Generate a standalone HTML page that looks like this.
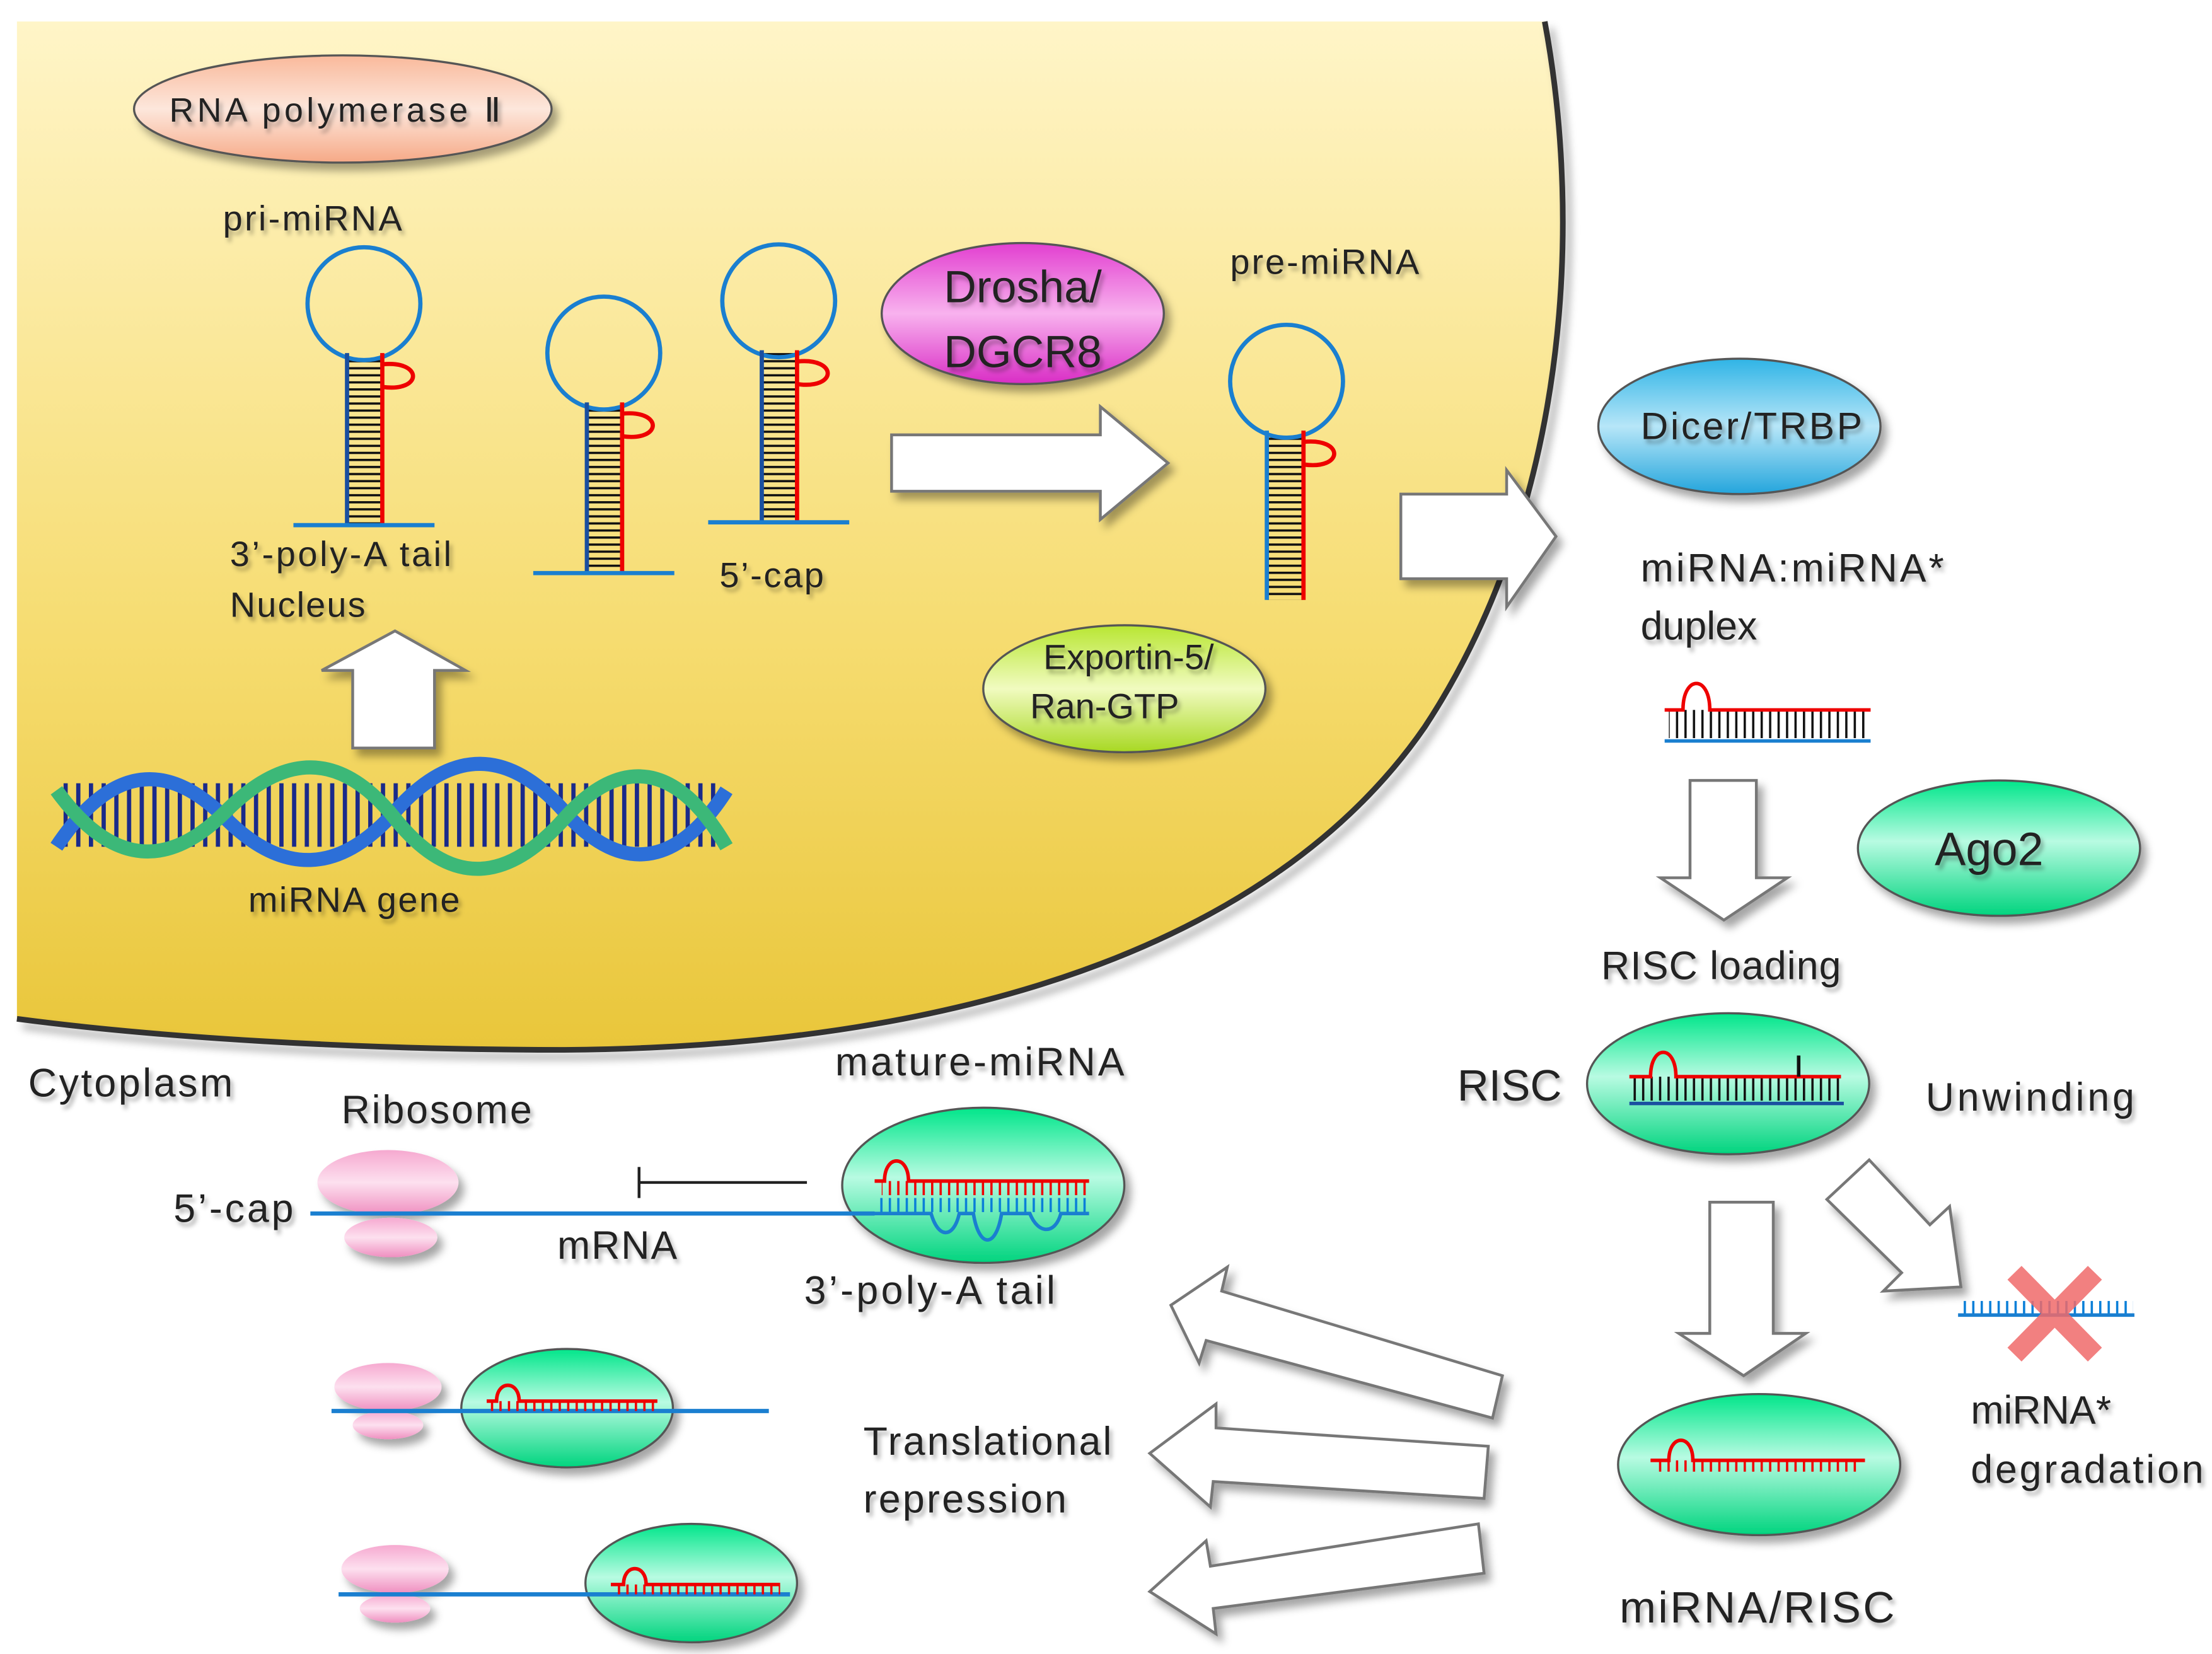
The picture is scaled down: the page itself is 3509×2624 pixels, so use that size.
<!DOCTYPE html>
<html><head><meta charset="utf-8"><style>html,body{margin:0;padding:0;background:#fff}svg{display:block}text{font-family:"Liberation Sans","DejaVu Sans",sans-serif;fill:#222}</style></head>
<body>
<svg width="3509" height="2624" viewBox="0 0 1568 1172" xmlns="http://www.w3.org/2000/svg">
<defs>
<linearGradient id="nuc" x1="0" y1="0" x2="0" y2="1"><stop offset="0" stop-color="#fff5c8"/><stop offset="0.6" stop-color="#f6dc70"/><stop offset="1" stop-color="#e9c63a"/></linearGradient>
<linearGradient id="grn" x1="0" y1="0" x2="0" y2="1"><stop offset="0" stop-color="#00e68a"/><stop offset="0.45" stop-color="#b8fbe2"/><stop offset="1" stop-color="#00d47e"/></linearGradient>
<linearGradient id="pol" x1="0" y1="0" x2="0" y2="1"><stop offset="0" stop-color="#f9b99b"/><stop offset="0.5" stop-color="#fde7dc"/><stop offset="1" stop-color="#f6a987"/></linearGradient>
<linearGradient id="mag" x1="0" y1="0" x2="0" y2="1"><stop offset="0" stop-color="#e23fd0"/><stop offset="0.5" stop-color="#f8b2ee"/><stop offset="1" stop-color="#d92cc5"/></linearGradient>
<linearGradient id="blu" x1="0" y1="0" x2="0" y2="1"><stop offset="0" stop-color="#2fb4e6"/><stop offset="0.5" stop-color="#b7e6f8"/><stop offset="1" stop-color="#23a5dc"/></linearGradient>
<linearGradient id="ylg" x1="0" y1="0" x2="0" y2="1"><stop offset="0" stop-color="#b8e632"/><stop offset="0.5" stop-color="#f1fbc0"/><stop offset="1" stop-color="#a8d822"/></linearGradient>
<linearGradient id="pnk" x1="0" y1="0" x2="0" y2="1"><stop offset="0" stop-color="#f6a9d0"/><stop offset="0.5" stop-color="#fde0ef"/><stop offset="1" stop-color="#ef8fc0"/></linearGradient>
<filter id="sh" x="-20%" y="-20%" width="150%" height="150%"><feDropShadow dx="4" dy="5" stdDeviation="3" flood-color="#000" flood-opacity="0.35"/></filter>
<filter id="ts"><feDropShadow dx="2" dy="3" stdDeviation="1.5" flood-color="#000" flood-opacity="0.3"/></filter>
<pattern id="rung" width="1" height="5" patternUnits="userSpaceOnUse"><rect width="30" height="1.6" fill="#111"/></pattern>
<pattern id="vr" width="6" height="30" patternUnits="userSpaceOnUse"><rect width="1.6" height="30" fill="#111"/></pattern>
<pattern id="vrr" width="6" height="30" patternUnits="userSpaceOnUse"><rect width="1.6" height="30" fill="#e00"/></pattern>
<pattern id="vrb" width="6" height="30" patternUnits="userSpaceOnUse"><rect width="1.6" height="30" fill="#0a7fd8"/></pattern>
<pattern id="dna" width="9" height="80" patternUnits="userSpaceOnUse"><rect width="3" height="80" fill="#1a2a8a"/></pattern>
</defs>

<!-- nucleus -->
<path d="M12,15 L1095,15 C1122,160 1112,360 1010,515 C910,660 700,742 400,744 C250,744 110,735 12,722 Z" fill="url(#nuc)"/>
<path d="M1095,15 C1122,160 1112,360 1010,515 C910,660 700,742 400,744 C250,744 110,735 12,722" fill="none" stroke="#333" stroke-width="4" filter="url(#sh)"/>

<!-- ellipses -->
<g filter="url(#sh)" stroke="#555" stroke-width="1.5">
<ellipse cx="243" cy="77" rx="148" ry="38" fill="url(#pol)"/>
<ellipse cx="725" cy="222" rx="100" ry="50" fill="url(#mag)"/>
<ellipse cx="797" cy="488" rx="100" ry="45" fill="url(#ylg)"/>
<ellipse cx="1233" cy="302" rx="100" ry="48" fill="url(#blu)"/>
<ellipse cx="1417" cy="601" rx="100" ry="48" fill="url(#grn)"/>
<ellipse cx="1225" cy="768" rx="100" ry="50" fill="url(#grn)"/>
<ellipse cx="697" cy="840" rx="100" ry="55" fill="url(#grn)"/>
<ellipse cx="1247" cy="1038" rx="100" ry="50" fill="url(#grn)"/>
<ellipse cx="402" cy="998" rx="75" ry="42" fill="url(#grn)"/>
<ellipse cx="490" cy="1122" rx="75" ry="42" fill="url(#grn)"/>
<ellipse cx="275" cy="838" rx="50" ry="23" fill="url(#pnk)" stroke="none"/>
<ellipse cx="277" cy="877" rx="33" ry="14" fill="url(#pnk)" stroke="none"/>
<ellipse cx="275" cy="983" rx="38" ry="17" fill="url(#pnk)" stroke="none"/>
<ellipse cx="275" cy="1010" rx="25" ry="10" fill="url(#pnk)" stroke="none"/>
<ellipse cx="280" cy="1112" rx="38" ry="17" fill="url(#pnk)" stroke="none"/>
<ellipse cx="280" cy="1140" rx="25" ry="10" fill="url(#pnk)" stroke="none"/>
</g>

<!-- stem loops -->
<g fill="none" stroke-width="3">
<g><rect x="246" y="252" width="25" height="120" fill="url(#rung)" stroke="none"/><circle cx="258" cy="215" r="40" stroke="#1a7fd0"/><line x1="246" y1="250" x2="246" y2="372" stroke="#1a4fa0"/><line x1="271" y1="250" x2="271" y2="372" stroke="#e00"/><path d="M271,258 C300,255 300,278 271,274" stroke="#e00"/><line x1="208" y1="372" x2="308" y2="372" stroke="#1a7fd0"/></g>
<g><rect x="416" y="287" width="25" height="118" fill="url(#rung)" stroke="none"/><circle cx="428" cy="250" r="40" stroke="#1a7fd0"/><line x1="416" y1="285" x2="416" y2="406" stroke="#1a4fa0"/><line x1="441" y1="285" x2="441" y2="406" stroke="#e00"/><path d="M441,293 C470,290 470,313 441,309" stroke="#e00"/><line x1="378" y1="406" x2="478" y2="406" stroke="#1a7fd0"/></g>
<g><rect x="540" y="250" width="25" height="120" fill="url(#rung)" stroke="none"/><circle cx="552" cy="213" r="40" stroke="#1a7fd0"/><line x1="540" y1="248" x2="540" y2="370" stroke="#1a4fa0"/><line x1="565" y1="248" x2="565" y2="370" stroke="#e00"/><path d="M565,256 C594,253 594,276 565,272" stroke="#e00"/><line x1="502" y1="370" x2="602" y2="370" stroke="#1a7fd0"/></g>
<g><rect x="898" y="307" width="26" height="118" fill="url(#rung)" stroke="none"/><circle cx="912" cy="270" r="40" stroke="#1a7fd0"/><line x1="898" y1="305" x2="898" y2="425" stroke="#1a7fd0"/><line x1="924" y1="305" x2="924" y2="425" stroke="#e00"/><path d="M924,313 C953,310 953,333 924,329" stroke="#e00"/></g>
</g>

<!-- DNA -->
<g>
<rect x="45" y="555" width="465" height="45" fill="url(#dna)"/>
<path d="M40,600 C80,540 120,540 160,580 S240,620 280,575 S360,530 400,575 S480,615 515,560" fill="none" stroke="#2c6fd8" stroke-width="10"/>
<path d="M40,560 C80,615 120,615 160,575 S240,530 280,580 S360,625 400,580 S480,540 515,600" fill="none" stroke="#3cb878" stroke-width="10"/>
</g>

<!-- block arrows -->
<g fill="#fff" stroke="#777" stroke-width="2" filter="url(#sh)">
<path d="M632,308 L780,308 L780,288 L828,328 L780,368 L780,348 L632,348 Z"/>
<path d="M993,350 L1068,350 L1068,333 L1103,380 L1068,430 L1068,410 L993,410 Z"/>
<path d="M250,530 L250,475 L228,475 L280,447 L330,475 L308,475 L308,530 Z"/>
<path d="M1198,553 L1245,553 L1245,622 L1267,622 L1222,652 L1177,622 L1198,622 Z"/>
<path d="M1212,852 L1257,852 L1257,945 L1280,945 L1236,975 L1190,945 L1212,945 Z"/>
<path d="M1295,850 L1325,822 L1368,868 L1382,855 L1390,912 L1335,915 L1348,902 Z"/>
<path d="M1065,975 L1058,1005 L855,950 L850,966 L830,925 L870,898 L866,915 Z"/>
<path d="M1055,1025 L1052,1062 L860,1050 L858,1068 L815,1030 L862,995 L862,1012 Z"/>
<path d="M1048,1080 L1052,1115 L860,1140 L862,1158 L815,1128 L855,1092 L858,1110 Z"/>
</g>

<!-- mRNA lines -->
<g stroke="#1a7fd0" stroke-width="3">
<line x1="220" y1="860" x2="620" y2="860"/>
<line x1="235" y1="1000" x2="545" y2="1000"/>
<line x1="240" y1="1130" x2="560" y2="1130"/>
</g>
<g stroke="#222" stroke-width="2"><line x1="453" y1="838" x2="572" y2="838"/><line x1="453" y1="827" x2="453" y2="849"/></g>

<!-- duplexes -->
<g fill="none" stroke-width="2.5">
<rect x="1183" y="503" width="142" height="20" fill="url(#vr)" stroke="none"/>
<path d="M1180,503 L1193,503 C1193,478 1212,478 1212,503 L1326,503" stroke="#e00"/>
<line x1="1180" y1="525" x2="1326" y2="525" stroke="#1a7fd0"/>
<rect x="1157" y="763" width="148" height="17" fill="url(#vr)" stroke="none"/>
<path d="M1155,763 L1170,763 C1170,740 1188,740 1188,763 L1305,763" stroke="#e00"/>
<line x1="1155" y1="782" x2="1307" y2="782" stroke="#1a4fa0"/>
<line x1="1275" y1="748" x2="1275" y2="763" stroke="#111"/>
<rect x="625" y="837" width="145" height="10" fill="url(#vrr)" stroke="none"/>
<path d="M620,837 L627,837 C627,818 644,818 644,837 L772,837" stroke="#e00"/>
<rect x="622" y="849" width="148" height="10" fill="url(#vrb)" stroke="none"/>
<path d="M620,860 L660,860 C665,878 676,878 680,860 L690,860 C694,885 706,885 710,860 L730,860 C736,875 748,875 752,860 L772,860" stroke="#1a7fd0"/>
<rect x="346" y="993" width="120" height="7" fill="url(#vrr)" stroke="none"/>
<path d="M345,993 L352,993 C352,978 368,978 368,993 L466,993" stroke="#e00"/>
<rect x="435" y="1123" width="118" height="7" fill="url(#vrr)" stroke="none"/>
<path d="M433,1123 L442,1123 C442,1108 458,1108 458,1123 L553,1123" stroke="#e00"/>
<rect x="1172" y="1035" width="148" height="8" fill="url(#vrr)" stroke="none"/>
<path d="M1170,1035 L1183,1035 C1183,1016 1200,1016 1200,1035 L1322,1035" stroke="#e00"/>
<rect x="1390" y="922" width="122" height="9" fill="url(#vrb)" stroke="none"/>
<line x1="1388" y1="932" x2="1513" y2="932" stroke="#1a7fd0"/>
</g>
<g stroke="#f06a6a" stroke-width="14" opacity="0.85"><line x1="1428" y1="902" x2="1485" y2="960"/><line x1="1485" y1="902" x2="1428" y2="960"/></g>

<!-- texts -->
<g font-size="25" filter="url(#ts)">
<text x="120" y="86" font-size="24" textLength="235">RNA polymerase Ⅱ</text>
<text x="158" y="163" textLength="127">pri-miRNA</text>
<text x="163" y="401" textLength="157">3’-poly-A tail</text>
<text x="163" y="437" textLength="96">Nucleus</text>
<text x="510" y="416" textLength="74">5’-cap</text>
<text x="872" y="194" textLength="134">pre-miRNA</text>
<text x="176" y="646" textLength="150">miRNA gene</text>
<text x="725" y="214" font-size="32" text-anchor="middle">Drosha/</text>
<text x="725" y="260" font-size="32" text-anchor="middle">DGCR8</text>
<text x="800" y="474" text-anchor="middle">Exportin-5/</text>
<text x="783" y="509" text-anchor="middle">Ran-GTP</text>
<text x="1163" y="311" font-size="27" textLength="157">Dicer/TRBP</text>
<text x="1163" y="412" font-size="28" textLength="215">miRNA:miRNA*</text>
<text x="1163" y="453" font-size="28">duplex</text>
<text x="1410" y="613" font-size="33" text-anchor="middle">Ago2</text>
<text x="1135" y="694" font-size="28" textLength="170">RISC loading</text>
<text x="1033" y="780" font-size="31">RISC</text>
<text x="1365" y="787" font-size="28" textLength="148">Unwinding</text>
<text x="20" y="777" font-size="28" textLength="145">Cytoplasm</text>
<text x="242" y="796" font-size="28" textLength="135">Ribosome</text>
<text x="592" y="762" font-size="28" textLength="205">mature-miRNA</text>
<text x="123" y="866" font-size="28" textLength="85">5’-cap</text>
<text x="395" y="892" font-size="28" textLength="85">mRNA</text>
<text x="570" y="924" font-size="28" textLength="178">3’-poly-A tail</text>
<text x="612" y="1031" font-size="28" textLength="176">Translational</text>
<text x="612" y="1072" font-size="28" textLength="144">repression</text>
<text x="1397" y="1009" font-size="28">miRNA*</text>
<text x="1397" y="1051" font-size="28" textLength="165">degradation</text>
<text x="1148" y="1150" font-size="31" textLength="195">miRNA/RISC</text>
</g>
</svg>
</body></html>
